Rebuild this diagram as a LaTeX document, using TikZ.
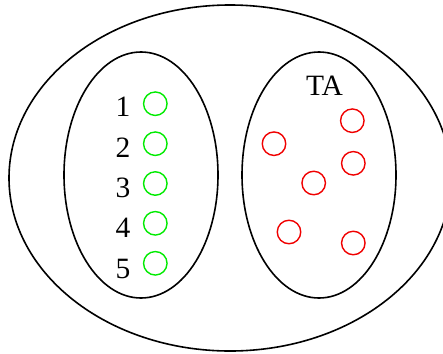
\documentclass[tikz,border=0pt]{standalone}
\usepackage{fontspec}
\setmainfont{Liberation Serif}
\usetikzlibrary{shapes.geometric}
\begin{document}
\begin{tikzpicture}[x=1pt,y=-1pt,
  setline/.style={draw=black,line width=1.6pt,ellipse,inner sep=0pt},
  gdot/.style={circle,draw={rgb,255:red,0;green,235;blue,0},line width=1.4pt,minimum size=23.5pt,inner sep=0pt},
  rdot/.style={circle,draw={rgb,255:red,240;green,0;blue,0},line width=1.4pt,minimum size=23.5pt,inner sep=0pt},
  lbl/.style={anchor=base,inner sep=0pt,font=\fontsize{29.5}{30}\selectfont}]
\useasboundingbox (0,0) rectangle (443,353);
\clip (0,0) rectangle (443,353);
\node[setline,minimum width=442pt,minimum height=346pt] (outer) at (230,178) {};
\node[setline,minimum width=154pt,minimum height=246pt] (left) at (141,175) {};
\node[setline,minimum width=154pt,minimum height=246pt] (right) at (319,175) {};
% green
\node[gdot] (g1) at (155.3,103.7) {};
\node[gdot] (g2) at (155.3,143.7) {};
\node[gdot] (g3) at (155.3,183.5) {};
\node[gdot] (g4) at (155.3,223.3) {};
\node[gdot] (g5) at (155.3,263.3) {};
\node[lbl] (n1) at (123,116) {1};
\node[lbl] (n2) at (123,157) {2};
\node[lbl] (n3) at (123,197.5) {3};
\node[lbl] (n4) at (123,237.5) {4};
\node[lbl] (n5) at (123,278) {5};
% red
\node[rdot] (r1) at (352.3,120.7) {};
\node[rdot] (r2) at (274,143.7) {};
\node[rdot] (r3) at (353.3,163.3) {};
\node[rdot] (r4) at (313.7,183) {};
\node[rdot] (r5) at (289,232) {};
\node[rdot] (r6) at (353.3,243) {};
\node[lbl] (ta) at (324.5,95) {TA};
\end{tikzpicture}
\end{document}
